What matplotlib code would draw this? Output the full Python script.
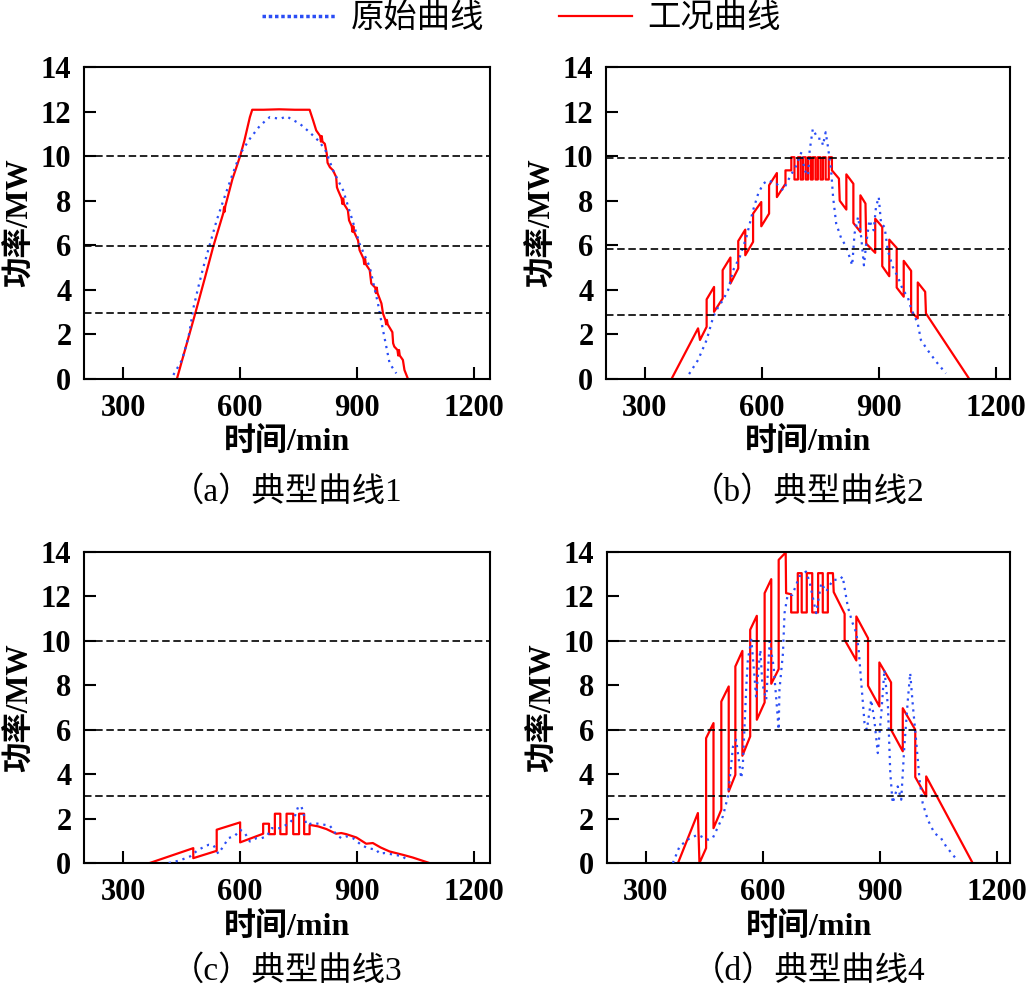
import matplotlib
matplotlib.use('Agg')
from matplotlib import pyplot as plt
from matplotlib.lines import Line2D

plt.rcParams['font.family'] = ['Liberation Serif', 'Noto Sans CJK SC']
plt.rcParams['axes.unicode_minus'] = False

# curve points: (time/min, power/MW)
red_a = [(438, 0), (460, 1.38), (485, 2.94), (510, 4.55), (531, 5.93), (557, 7.45),
         (559, 7.72), (560, 7.5), (562, 7.75), (580, 8.95), (600, 10.0), (611, 10.7),
         (625, 11.75), (631, 12.08), (660, 12.08), (700, 12.1), (740, 12.08), (778, 12.08),
         (787, 11.6), (795, 11.15), (805, 10.9), (807, 10.65), (809, 10.9), (811, 10.65),
         (817, 10.55), (822, 10.1), (824, 9.7), (830, 9.5), (838, 9.36), (846, 9.06),
         (848, 8.6), (851, 8.46), (860, 8.1), (862, 7.85), (864, 8.1), (866, 7.85),
         (876, 7.57), (879, 7.12), (886, 6.85), (888, 6.6), (890, 6.85), (892, 6.6),
         (902, 6.22), (906, 5.78), (916, 5.4), (918, 5.15), (920, 5.4), (922, 5.15),
         (932, 4.88), (936, 4.28), (946, 4.1), (948, 3.85), (950, 4.1), (952, 3.85),
         (962, 3.39), (966, 2.94), (972, 2.65), (974, 2.45), (976, 2.65), (978, 2.45),
         (990, 2.1), (992, 1.6), (995, 1.45), (1003, 1.3), (1005, 1.05), (1007, 1.3),
         (1009, 1.05), (1017, 0.85), (1021, 0.4), (1030, 0)]
blue_a = [(429, 0.18), (451, 0.85), (468, 1.9), (481, 3.24), (493, 4.13), (506, 5.03),
          (523, 6.07), (540, 7.12), (557, 8.01), (578, 9.06), (600, 10.1), (625, 10.78),
          (651, 11.37), (676, 11.75), (702, 11.67), (719, 11.78), (753, 11.45), (778, 11.07),
          (804, 10.63), (821, 10.18), (838, 9.36), (864, 8.46), (885, 7.27), (906, 6.07),
          (932, 5.03), (953, 3.39), (966, 2.19), (983, 0.7), (1000, 0.25)]

red_b = [(368, 0), (436, 2.27), (441, 1.75), (458, 2.34), (458, 3.57), (477, 4.13),
         (477, 3.01), (499, 3.61), (499, 4.88), (519, 5.45), (519, 4.28), (539, 4.96),
         (539, 6.19), (557, 6.7), (557, 5.55), (577, 6.15), (577, 7.42), (598, 7.94),
         (598, 6.85), (618, 7.42), (618, 8.69), (638, 9.24), (638, 8.16), (660, 8.76),
         (660, 9.36), (675, 9.36), (675, 9.95), (683, 9.95), (683, 8.95), (692, 8.95),
         (692, 9.95), (699, 9.95), (699, 8.95), (705, 8.95), (705, 9.95), (712, 9.95),
         (712, 8.95), (718, 8.95), (718, 9.95), (725, 9.95), (725, 8.95), (730, 8.95),
         (730, 9.95), (737, 9.95), (737, 8.95), (743, 8.95), (743, 9.95), (750, 9.95),
         (750, 8.95), (756, 8.95), (756, 9.95), (763, 9.95), (763, 8.95), (771, 8.95),
         (771, 9.95), (779, 9.95), (779, 9.36), (797, 8.99), (799, 8.0), (816, 7.6),
         (816, 9.18), (834, 8.76), (834, 7.0), (852, 6.6), (852, 8.24), (865, 7.87),
         (867, 6.07), (890, 5.66), (890, 7.19), (908, 6.82), (908, 5.06), (926, 4.61),
         (926, 6.25), (945, 5.88), (945, 4.1), (963, 3.69), (963, 5.3), (982, 4.85),
         (982, 3.01), (999, 2.72), (999, 4.33), (1018, 3.91), (1020, 2.94), (1131, 0)]
blue_b = [(413, 0.22), (436, 0.85), (458, 1.75), (475, 2.79), (488, 3.24), (500, 3.54),
          (513, 3.99), (526, 4.88), (543, 5.48), (560, 6.37), (577, 7.57), (590, 8.31),
          (603, 8.76), (615, 8.91), (637, 8.76), (654, 8.46), (671, 9.06), (688, 9.58),
          (701, 10.18), (709, 9.36), (718, 9.13), (722, 10.25), (730, 11.22), (743, 10.78),
          (752, 10.78), (756, 10.48), (763, 11.07), (769, 10.4), (777, 9.36), (782, 8.16),
          (790, 6.97), (803, 6.3), (816, 5.93), (824, 5.48), (831, 5.1), (837, 6.52),
          (846, 7.27), (854, 6.37), (861, 5.1), (867, 6.07), (875, 7.12), (886, 6.67),
          (892, 7.72), (899, 8.16), (905, 6.97), (914, 6.82), (922, 5.78), (935, 5.03),
          (948, 4.58), (961, 3.99), (973, 3.69), (982, 3.16), (999, 2.49), (1007, 1.75),
          (1024, 1.3), (1046, 0.78), (1071, 0.25)]

red_c = [(368, 0), (480, 0.67), (480, 0.22), (540, 0.55), (540, 1.5), (600, 1.83),
         (600, 0.93), (659, 1.32), (659, 1.77), (674, 1.77), (674, 1.3), (689, 1.3),
         (689, 2.22), (703, 2.22), (703, 1.3), (719, 1.3), (719, 2.22), (736, 2.22),
         (736, 1.3), (751, 1.3), (751, 2.22), (764, 2.22), (764, 1.3), (778, 1.3),
         (778, 1.72), (800, 1.65), (821, 1.53), (846, 1.32), (859, 1.35), (872, 1.3),
         (898, 1.15), (923, 0.87), (940, 0.9), (960, 0.7), (983, 0.52), (1017, 0.37),
         (1042, 0.25), (1085, 0)]
blue_c = [(417, 0), (446, 0.12), (472, 0.3), (493, 0.6), (519, 0.82), (532, 0.8),
          (544, 0.42), (557, 0.75), (570, 1.12), (587, 1.23), (600, 1.5), (612, 1.35),
          (625, 0.97), (642, 1.12), (655, 1.12), (668, 1.2), (681, 1.57), (702, 1.57),
          (727, 1.8), (740, 2.1), (749, 2.55), (757, 2.55), (770, 1.72), (787, 1.8),
          (800, 1.77), (817, 1.72), (830, 1.68), (847, 1.27), (859, 1.12), (872, 1.2),
          (889, 1.12), (910, 0.82), (927, 0.67), (949, 0.6), (957, 0.42), (970, 0.45),
          (996, 0.37), (1017, 0.3), (1030, 0.07)]

red_d = [(383, 0), (434, 2.25), (438, 0), (455, 0.67), (455, 5.62), (474, 6.3),
         (474, 1.57), (494, 2.4), (494, 7.27), (513, 7.95), (513, 3.22), (530, 3.97),
         (530, 8.85), (548, 9.55), (548, 4.83), (568, 5.7), (568, 10.5), (585, 11.13),
         (585, 6.45), (605, 7.23), (605, 12.15), (622, 12.78), (622, 8.07), (641, 8.73),
         (641, 13.65), (659, 13.98), (660, 12.15), (673, 12.1), (673, 11.28), (690, 11.28),
         (690, 13.05), (700, 13.05), (700, 11.28), (713, 11.28), (713, 13.05), (727, 13.05),
         (727, 11.28), (742, 11.28), (742, 13.05), (754, 13.05), (754, 11.28), (767, 11.28),
         (767, 13.05), (780, 13.05), (782, 12.2), (810, 11.22), (810, 10.05), (840, 9.12),
         (840, 11.1), (870, 10.12), (870, 7.98), (899, 7.05), (899, 9.03), (929, 8.13),
         (929, 6.0), (959, 5.03), (959, 6.97), (991, 6.0), (991, 3.87), (1019, 3.0),
         (1019, 3.9), (1138, 0)]
blue_d = [(370, 0), (387, 0.75), (413, 1.12), (434, 1.27), (460, 1.05), (472, 1.12),
          (498, 2.1), (511, 3.0), (524, 5.25), (532, 5.55), (545, 3.82), (549, 4.35),
          (558, 7.95), (562, 9.15), (571, 10.05), (579, 8.4), (583, 7.5), (594, 9.6),
          (599, 8.1), (609, 7.35), (618, 9.97), (628, 8.85), (635, 7.35), (641, 6.0),
          (643, 7.8), (652, 9.45), (656, 11.25), (664, 12.07), (676, 12.07), (694, 12.9),
          (711, 13.12), (720, 12.67), (737, 11.25), (750, 12.6), (763, 12.22), (780, 12.75),
          (797, 12.75), (805, 12.9), (818, 11.55), (829, 10.87), (840, 10.35), (846, 9.6),
          (852, 8.25), (861, 6.3), (867, 6.0), (878, 7.35), (886, 6.45), (895, 4.95),
          (904, 6.75), (912, 8.7), (921, 7.05), (927, 4.05), (933, 2.7), (946, 3.45),
          (955, 2.85), (963, 5.25), (972, 7.35), (978, 8.55), (985, 7.05), (993, 5.55),
          (1002, 3.75), (1010, 2.7), (1023, 1.95), (1040, 1.35), (1057, 1.12), (1070, 0.75),
          (1096, 0.18)]

# working-condition thresholds (dashed lines)
levels_a = [10, 5.96, 2.95]
levels_b = [9.9, 5.85, 2.85]
levels_c = [10, 6, 3]
levels_d = [10, 6, 3]

captions = ['（a）典型曲线1', '（b）典型曲线2', '（c）典型曲线3', '（d）典型曲线4']
xticks = [300, 600, 900, 1200]
yticks = [0, 2, 4, 6, 8, 10, 12, 14]

fig = plt.figure(figsize=(10.33, 9.92), dpi=100)

boxes = [[0.0813, 0.618, 0.393, 0.3145],
         [0.5866, 0.618, 0.391, 0.3145],
         [0.0813, 0.130, 0.393, 0.3135],
         [0.5872, 0.130, 0.391, 0.3135]]
xmax = [1240, 1235, 1240, 1235]
reds = [red_a, red_b, red_c, red_d]
blues = [blue_a, blue_b, blue_c, blue_d]
levels = [levels_a, levels_b, levels_c, levels_d]

for i in range(4):
    ax = fig.add_axes(boxes[i])
    rx, ry = zip(*reds[i])
    bx, by = zip(*blues[i])
    ax.plot(rx, ry, color='#ff0000', lw=1.6, zorder=2)
    ax.plot(bx, by, color='#2a4df5', lw=1.6, ls=(0, (1, 2.2)), zorder=3)
    for lv in levels[i]:
        ax.axhline(lv, color='black', lw=1.2, ls=(0, (4.5, 2.2)), zorder=4)
    ax.set_xlim(200, xmax[i])
    ax.set_ylim(0, 14)
    ax.set_xticks(xticks)
    ax.set_yticks(yticks)
    ax.tick_params(direction='in', length=8.5, width=1.5, labelsize=22, pad=9)
    ax.tick_params(axis='x', pad=11)
    for lab in ax.get_xticklabels() + ax.get_yticklabels():
        lab.set_fontweight('bold')
    for sp in ax.spines.values():
        sp.set_linewidth(1.5)
    ax.set_xlabel('时间/min', fontsize=23, fontweight='bold', labelpad=3)
    ax.set_ylabel('功率/MW', fontsize=22, fontweight='bold', labelpad=4)
    cx = boxes[i][0] + boxes[i][2] / 2
    cy = 0.504 if i < 2 else 0.021
    fig.text(cx, cy, captions[i], fontsize=24, ha='center', va='center')

handles = [Line2D([], [], color='#2a4df5', lw=2.5, ls=(0, (1, 0.8))),
           Line2D([], [], color='#ff0000', lw=1.6)]
fig.legend(handles, ['原始曲线', '工况曲线'], loc='center', bbox_to_anchor=(0.505, 0.981),
           ncol=2, frameon=False, fontsize=24, handlelength=2.2, handletextpad=0.45,
           columnspacing=2.25)

fig.savefig('out.png', dpi=100)
